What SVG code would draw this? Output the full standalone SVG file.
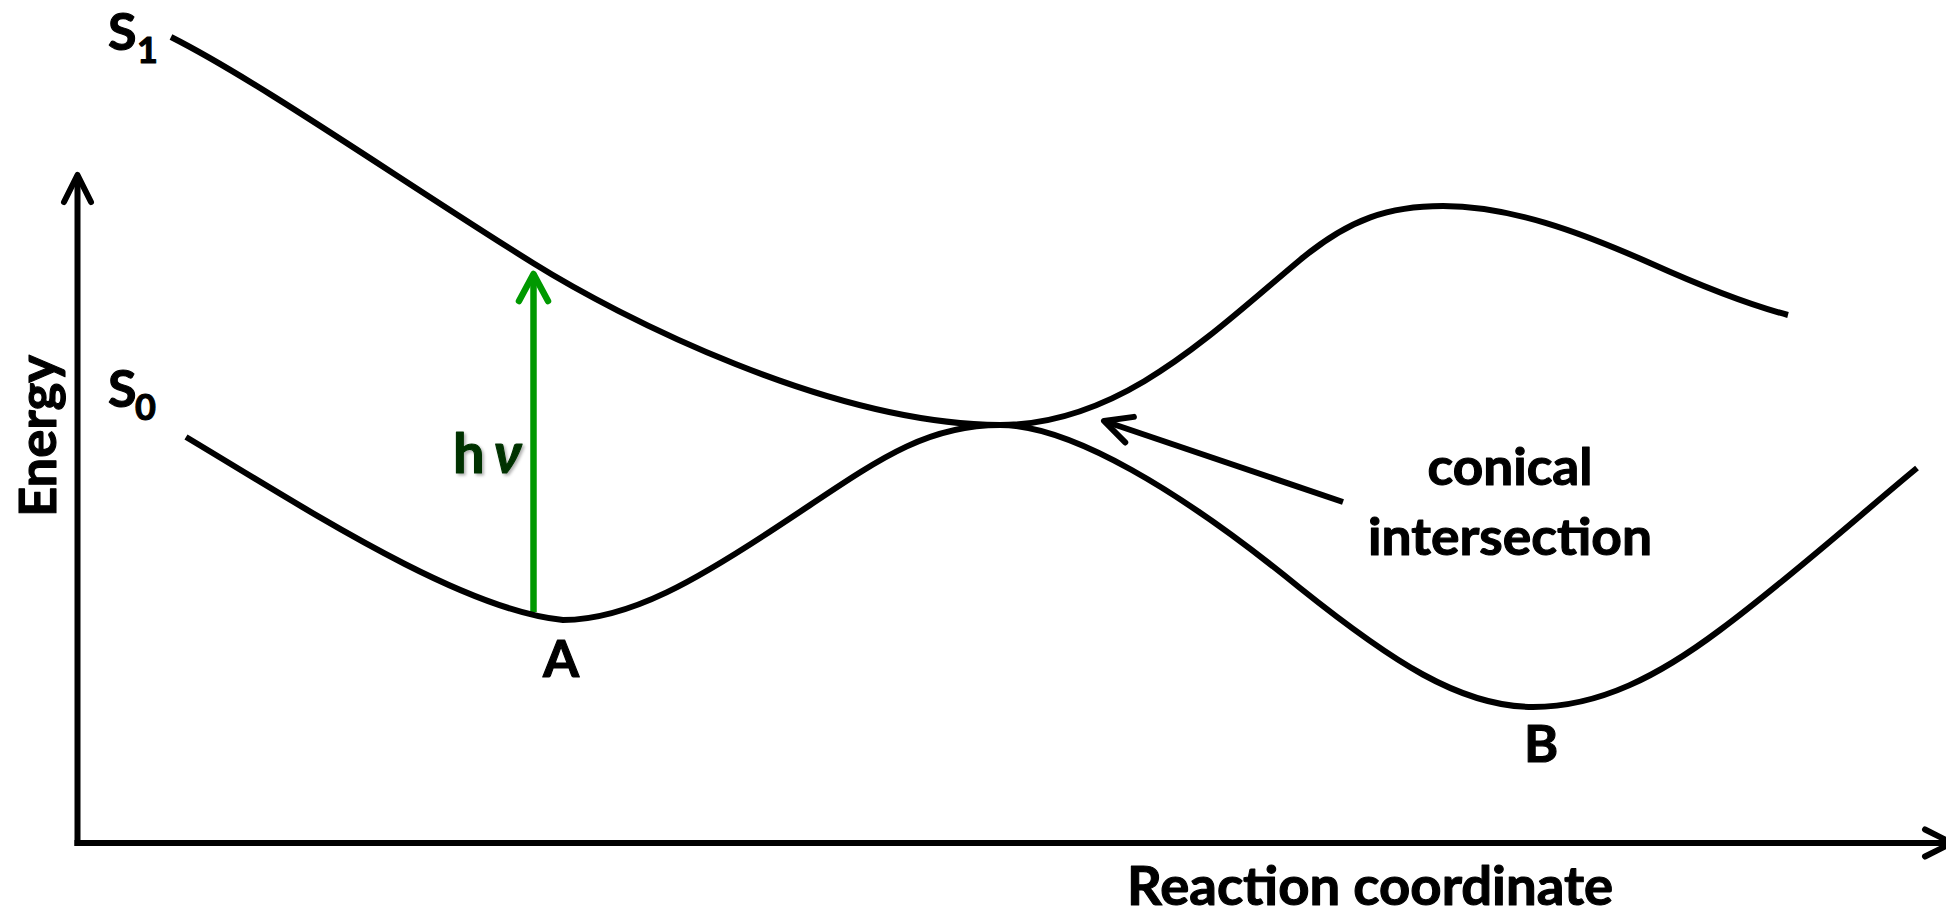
<svg xmlns="http://www.w3.org/2000/svg" width="1946" height="915" viewBox="0 0 1946 915">
  <style>
    .t { font-family: Lato, "Liberation Sans", sans-serif; font-weight: 700; fill: #000; stroke: #000; stroke-width: 1.1; stroke-linejoin: round; }
    .curve { fill: none; stroke: #000; stroke-width: 6; stroke-linecap: butt; stroke-linejoin: round; }
    .axis { fill: none; stroke: #000; stroke-width: 6; }
    .ptr { fill: none; stroke: #000; stroke-width: 6; }
    .hv { fill: none; stroke: #009900; stroke-width: 6.5; }
  </style>
  <defs>
    <marker id="headK" markerUnits="userSpaceOnUse" markerWidth="60" markerHeight="60" refX="0" refY="0" orient="auto" overflow="visible">
      <path d="M -27,-13.5 L 0,0 L -27,13.5" fill="none" stroke="#000" stroke-width="6" stroke-linecap="round" stroke-linejoin="round"/>
    </marker>
    <marker id="headG" markerUnits="userSpaceOnUse" markerWidth="60" markerHeight="60" refX="0" refY="0" orient="auto" overflow="visible">
      <path d="M -27,-14.5 L 0,0 L -27,14.5" fill="none" stroke="#009900" stroke-width="6.5" stroke-linecap="round" stroke-linejoin="round"/>
    </marker>
    <filter id="shadow" x="-20%" y="-20%" width="140%" height="140%">
      <feDropShadow dx="2" dy="2" stdDeviation="1.5" flood-color="#000" flood-opacity="0.3"/>
    </filter>
  </defs>
  <rect width="1946" height="915" fill="#fff"/>

  <g id="connectors">
    <path id="y-axis" class="axis" d="M 77.5,846 L 77.5,175" marker-end="url(#headK)"/>
    <path id="x-axis" class="axis" d="M 74.5,843 L 1952,843" marker-end="url(#headK)"/>
    <path id="ci-arrow" class="ptr" d="M 1343,502 L 1104,421" marker-end="url(#headK)"/>
    <path id="hv-arrow" class="hv" d="M 533.5,612 L 533.5,274" marker-end="url(#headG)"/>
  </g>

  <g id="S1-curve">
    <path class="curve" d="M 171,37 C 260,82 400,180 533,263 C 620,317.3 830,424 1000,425 C 1120,425 1210,335 1300,260 C 1350,218.3 1390,206 1443,206 C 1510,206 1580,232 1650,263 C 1710,290 1750,305 1788,315"/>
  </g>
  <g id="S0-curve">
    <path class="curve" d="M 186,437 C 300,505 460,610 563,620 C 630,620 700,578 780,525 C 870,466 920,425 1000,425 C 1070,425 1180,490 1300,588 C 1390,660 1460,707 1533,707 C 1600,707 1660,675 1720,630 C 1790,578 1860,515 1917,468"/>
  </g>

  <g id="label-S1">
    <text class="t" font-size="52"><tspan x="108" y="50">S</tspan><tspan x="137" y="63" font-size="36">1</tspan></text>
  </g>
  <g id="label-S0">
    <text class="t" font-size="52"><tspan x="108" y="407">S</tspan><tspan x="135" y="420" font-size="36">0</tspan></text>
  </g>
  <g id="label-energy">
    <text class="t" font-size="51" text-anchor="middle" textLength="162" lengthAdjust="spacingAndGlyphs" transform="translate(55.5,436) rotate(-90)">Energy</text>
  </g>
  <g id="label-hv">
    <text class="t" font-size="56" style="fill:#003300;stroke:#003300" filter="url(#shadow)"><tspan x="453" y="473">h</tspan><tspan x="494" y="473" font-style="italic">ν</tspan></text>
  </g>
  <g id="label-A">
    <text class="t" font-size="52" text-anchor="middle" x="561" y="677">A</text>
  </g>
  <g id="label-B">
    <text class="t" font-size="52" text-anchor="middle" x="1541" y="762">B</text>
  </g>
  <g id="label-ci">
    <text class="t" font-size="51" text-anchor="middle"><tspan x="1510" y="485" textLength="165" lengthAdjust="spacingAndGlyphs">conical</tspan></text>
    <text class="t" font-size="51" text-anchor="middle"><tspan x="1510" y="555" textLength="284" lengthAdjust="spacingAndGlyphs">intersection</tspan></text>
  </g>
  <g id="label-rc">
    <text class="t" font-size="53" text-anchor="middle" x="1370" y="905" textLength="486" lengthAdjust="spacingAndGlyphs">Reaction coordinate</text>
  </g>
</svg>
